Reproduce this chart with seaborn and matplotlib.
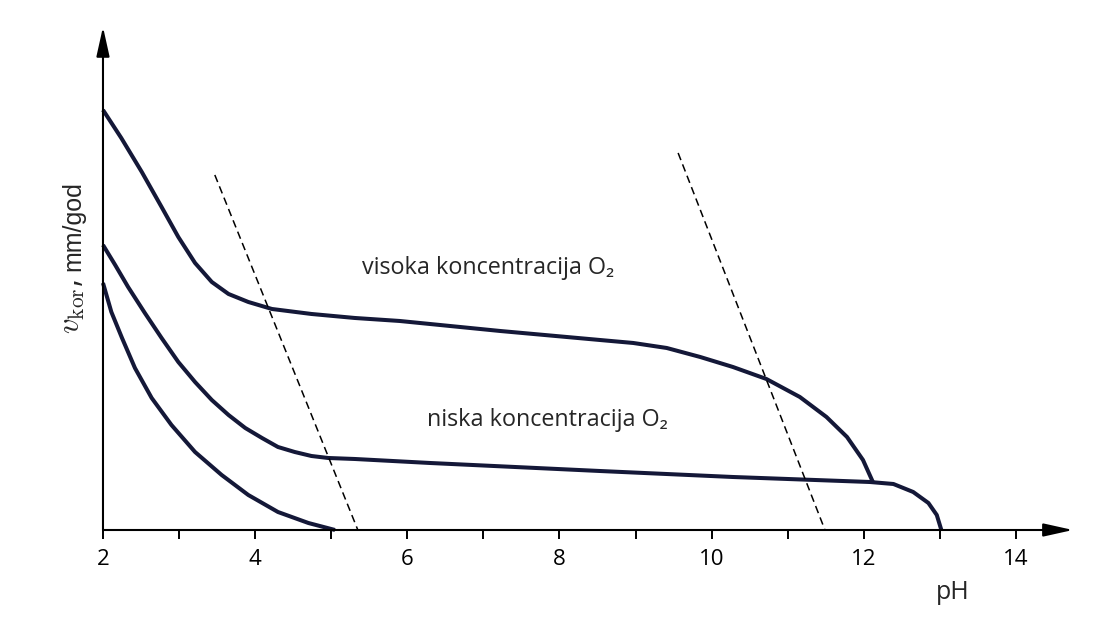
import numpy as np
import pandas as pd
import seaborn as sns
import matplotlib.pyplot as plt

# values (pH, relative corrosion rate)
ph_high = [2.00, 2.24, 2.51, 2.77, 2.99, 3.21, 3.43, 3.65, 3.91, 4.22, 4.74, 5.31,
           5.90, 7.22, 8.53, 8.97, 9.41, 9.85, 10.28, 10.72, 11.16, 11.51, 11.78,
           11.99, 12.12]
v_high = [4.20, 3.92, 3.58, 3.23, 2.93, 2.67, 2.48, 2.36, 2.28, 2.21, 2.16, 2.12,
          2.09, 1.99, 1.90, 1.87, 1.82, 1.73, 1.63, 1.51, 1.33, 1.13, 0.93,
          0.70, 0.48]

ph_low = [2.00, 2.16, 2.33, 2.55, 2.77, 2.99, 3.21, 3.43, 3.65, 3.87, 4.09, 4.30,
          4.52, 4.74, 4.96, 5.31, 6.30, 8.53, 10.28, 12.08, 12.39, 12.65, 12.85,
          12.96, 13.02]
v_low = [2.85, 2.65, 2.43, 2.17, 1.92, 1.68, 1.48, 1.30, 1.15, 1.02, 0.92, 0.83,
         0.78, 0.74, 0.72, 0.71, 0.67, 0.59, 0.53, 0.48, 0.46, 0.38, 0.27,
         0.15, 0.00]

ph_none = [2.00, 2.11, 2.25, 2.42, 2.64, 2.90, 3.21, 3.56, 3.91, 4.30, 4.70, 5.05]
v_none = [2.47, 2.18, 1.92, 1.62, 1.32, 1.05, 0.78, 0.55, 0.35, 0.18, 0.07, 0.00]

ph_dash1 = [3.47, 5.35]
v_dash1 = [3.55, 0.00]
ph_dash2 = [9.56, 11.49]
v_dash2 = [3.77, 0.00]

label_high = "visoka koncentracija O₂"
label_low = "niska koncentracija O₂"
x_ticks = [2, 4, 6, 8, 10, 12, 14]
x_minor = [3, 5, 7, 9, 11, 13]

sns.set_style("white")
plt.rcParams['font.family'] = ['Open Sans', 'DejaVu Sans']
plt.rcParams['mathtext.fontset'] = 'cm'

fig = plt.figure(figsize=(11.05, 6.18), dpi=100)
ax = fig.add_axes([0.0932, 0.1424, 0.8778, 0.814])

curve_color = "#141838"
for xs, ys in [(ph_high, v_high), (ph_low, v_low), (ph_none, v_none)]:
    sns.lineplot(x=xs, y=ys, sort=False, estimator=None, color=curve_color,
                 lw=2.9, ax=ax, clip_on=False, solid_capstyle='butt',
                 solid_joinstyle='round')
for xs, ys in [(ph_dash1, v_dash1), (ph_dash2, v_dash2)]:
    sns.lineplot(x=xs, y=ys, sort=False, estimator=None, color="black",
                 lw=1.1, ax=ax, linestyle=(0, (5, 3)))

ax.set_xlim(2, 14.75)
ax.set_ylim(0, 5.03)

for s in ax.spines.values():
    s.set_visible(False)

# axes with arrow heads
arrow = dict(arrowstyle='-|>,head_length=0.9,head_width=0.2', color='black',
             lw=1.5, shrinkA=0, shrinkB=0, mutation_scale=20)
ax.annotate("", xy=(1, 0), xytext=(0, 0), xycoords='axes fraction', arrowprops=arrow)
ax.annotate("", xy=(0, 1), xytext=(0, 0), xycoords='axes fraction', arrowprops=arrow)

ax.set_xticks(x_ticks)
ax.set_xticklabels([str(t) for t in x_ticks])
ax.set_xticks(x_minor, minor=True)
ax.set_yticks([])
ax.tick_params(axis='x', which='both', direction='out', length=6.5, width=1.4,
               colors='black', bottom=True, labelsize=16, pad=7)
ax.set_xlabel("")
ax.set_ylabel("")

ax.text(5.40, 2.56, label_high, fontsize=16.8, ha='left', va='baseline')
ax.text(6.26, 1.04, label_low, fontsize=16.8, ha='left', va='baseline')

ax.text(13.17, -0.69, "pH", fontsize=18, ha='center', va='baseline', clip_on=False)

# y label: math symbol and unit drawn as two pieces so the symbol can be larger
ax.text(-0.0237, 0.443, r"$v_{\mathrm{kor}}$,", fontsize=22, rotation=90,
        rotation_mode='anchor', ha='center', va='baseline', transform=ax.transAxes)
ax.text(-0.0237, 0.604, "mm/god", fontsize=18, rotation=90,
        rotation_mode='anchor', ha='center', va='baseline', transform=ax.transAxes,
        family='Liberation Sans')

fig.savefig("out.png", dpi=100)
